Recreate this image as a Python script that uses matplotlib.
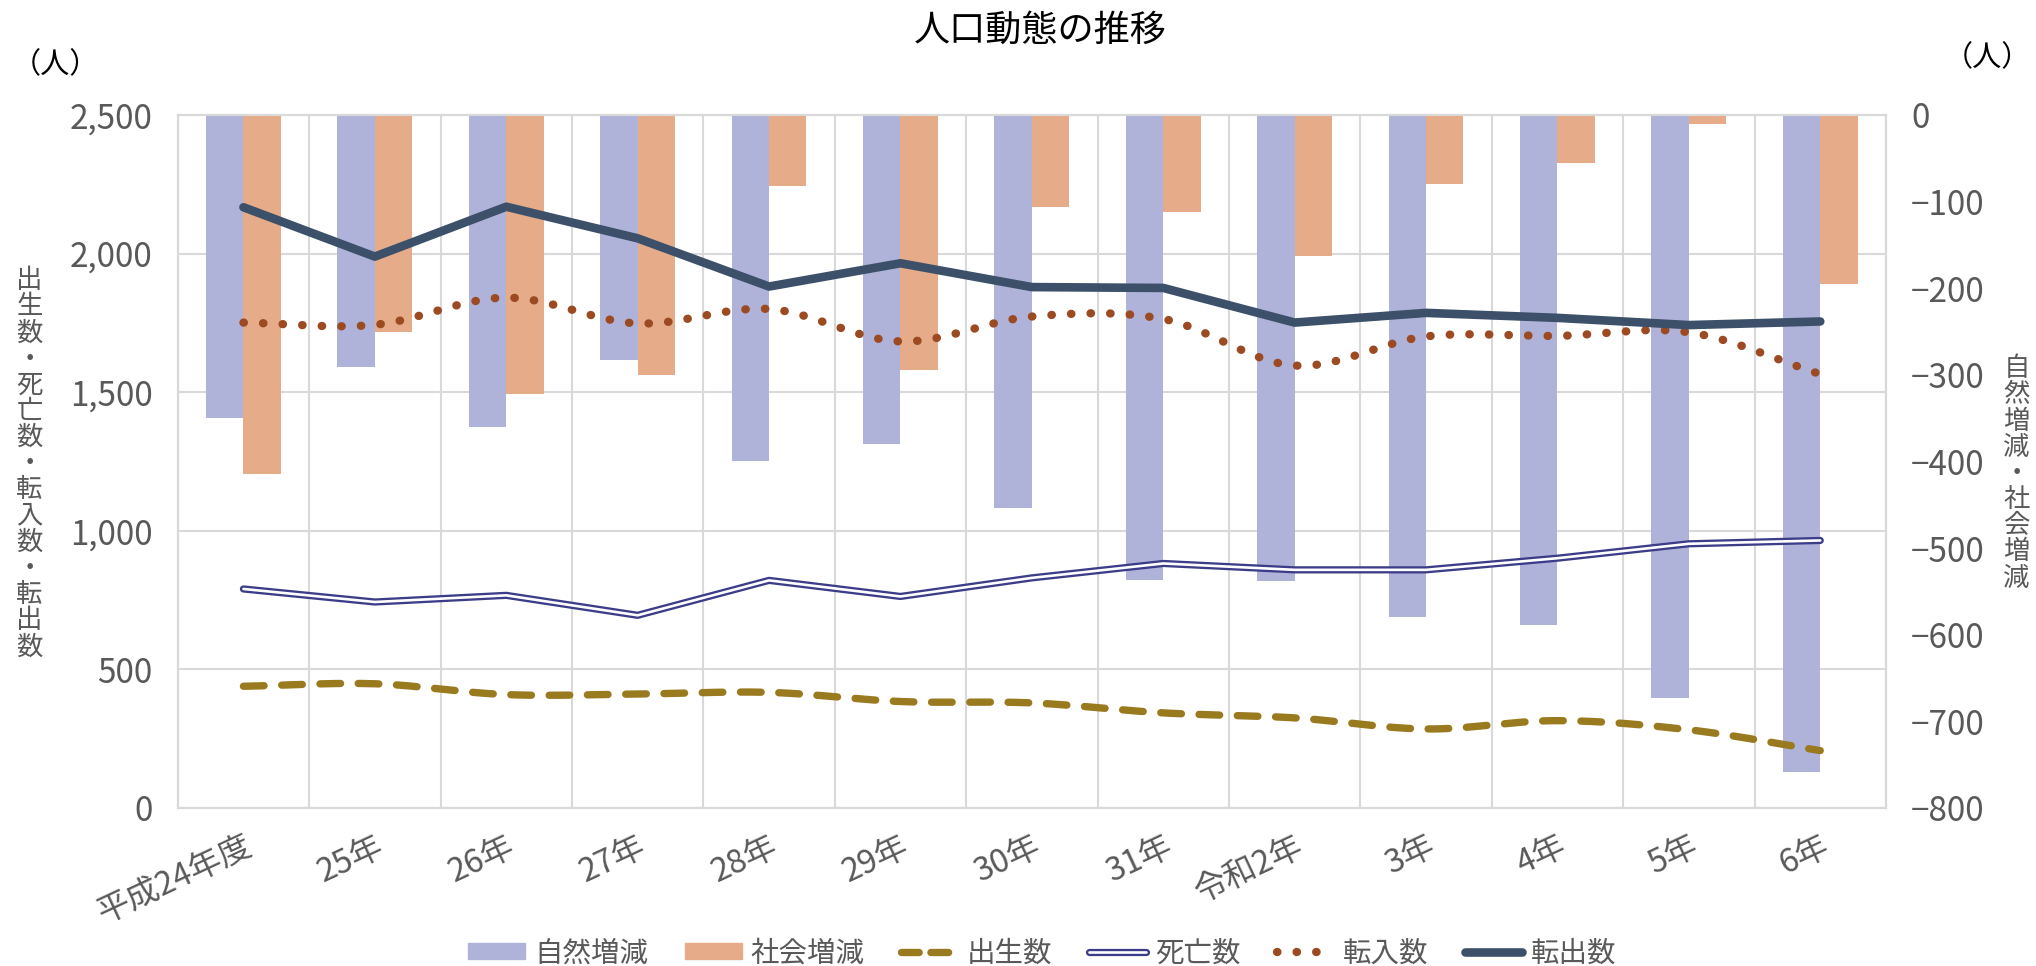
import matplotlib
matplotlib.use("Agg")
import matplotlib.pyplot as plt
import numpy as np
from matplotlib.lines import Line2D
from matplotlib.patches import Patch

plt.rcParams['font.family'] = ['Noto Sans CJK JP', 'DejaVu Sans']

# data
years = ['平成24年度', '25年', '26年', '27年', '28年', '29年', '30年',
         '31年', '令和2年', '3年', '4年', '5年', '6年']
shizen = [-350, -291, -360, -283, -399, -380, -454, -537, -538, -579, -589, -673, -759]
shakai = [-415, -251, -322, -300, -82, -294, -106, -112, -163, -80, -55, -11, -195]
births = [439, 448, 409, 411, 417, 384, 379, 343, 325, 285, 315, 282, 207]
deaths = [790, 743, 767, 695, 821, 763, 830, 882, 859, 859, 901, 953, 965]
tennyu = [1751, 1743, 1841, 1748, 1800, 1683, 1773, 1764, 1596, 1701, 1703, 1716, 1565]
tenshutsu = [2167, 1989, 2169, 2055, 1881, 1965, 1879, 1876, 1751, 1786, 1768, 1742, 1755]

c_shizen = '#b0b3d9'
c_shakai = '#e6ab89'
c_birth = '#9a7a1e'
c_death = '#3b3d88'
c_in = '#9b4a22'
c_out = '#3c5069'
grey = '#595959'
gridc = '#d9d9d9'


def smooth(xs, ys, n=30):
    # catmull-rom style curve through the points, like a smoothed line
    xs = np.asarray(xs, float)
    ys = np.asarray(ys, float)
    m = np.gradient(ys, xs)
    m[1:-1] = (ys[2:] - ys[:-2]) / (xs[2:] - xs[:-2])
    m[0] = ys[1] - ys[0]
    m[-1] = ys[-1] - ys[-2]
    ox, oy = [], []
    for i in range(len(xs) - 1):
        t = np.linspace(0, 1, n, endpoint=False)
        h = xs[i + 1] - xs[i]
        h00 = 2 * t**3 - 3 * t**2 + 1
        h10 = t**3 - 2 * t**2 + t
        h01 = -2 * t**3 + 3 * t**2
        h11 = t**3 - t**2
        ox.extend(xs[i] + t * h)
        oy.extend(h00 * ys[i] + h10 * h * m[i] + h01 * ys[i + 1] + h11 * h * m[i + 1])
    ox.append(xs[-1])
    oy.append(ys[-1])
    return np.array(ox), np.array(oy)


fig = plt.figure(figsize=(20.36, 9.66), dpi=100)
pos = [0.0873, 0.1636, 0.839, 0.7174]

ax = fig.add_axes(pos)
axb = ax.twinx()
axl = fig.add_axes(pos, sharex=ax, sharey=ax)
ax.set_zorder(0)
axb.set_zorder(1)
axl.set_zorder(2)
axb.patch.set_visible(False)
axl.set_axis_off()

x = np.arange(len(years))
w = 0.285

# bars on the right axis
axb.bar(x - w / 2, shizen, w, color=c_shizen, zorder=2)
axb.bar(x + w / 2, shakai, w, color=c_shakai, zorder=2)
axb.set_ylim(-800, 0)
axb.set_yticks(np.arange(-800, 1, 100))
axb.tick_params(axis='y', length=0, pad=18, labelsize=24, labelcolor=grey)

# lines on the left scale
sx, sy = smooth(x, births)
axl.plot(sx, sy, color=c_birth, lw=5.3, dashes=(2.8, 2.4), dash_capstyle='round',
         solid_capstyle='round')
axl.plot(x, deaths, color=c_death, lw=5.2, solid_capstyle='round', solid_joinstyle='round')
axl.plot(x, deaths, color='white', lw=1.9, solid_capstyle='round', solid_joinstyle='round')
tx, ty = smooth(x, tennyu)
axl.plot(tx, ty, color=c_in, lw=6, dashes=(0.05, 2.3), dash_capstyle='round')
axl.plot(x, tenshutsu, color=c_out, lw=6.2, solid_capstyle='round', solid_joinstyle='round')

ax.set_xlim(-0.5, len(years) - 0.5)
ax.set_ylim(0, 2500)
ax.set_yticks(np.arange(0, 2501, 500))
ax.set_yticklabels([f'{v:,}' for v in range(0, 2501, 500)])
ax.tick_params(axis='y', length=0, pad=18, labelsize=24, labelcolor=grey)
ax.set_xticks(x)
ax.set_xticklabels(years, rotation=25, ha='right', va='top', rotation_mode='anchor')
ax.tick_params(axis='x', which='major', length=0, pad=16, labelsize=23.5, labelcolor=grey)
ax.set_xticks(np.arange(-0.5, len(years), 1), minor=True)
ax.tick_params(axis='x', which='minor', length=0)
ax.grid(True, axis='y', which='major', color=gridc, lw=1.5)
ax.grid(True, axis='x', which='minor', color=gridc, lw=1.5)
ax.set_axisbelow(True)
for a in (ax, axb):
    for s in a.spines.values():
        s.set_color(gridc)
        s.set_linewidth(1.5)

# titles and axis labels
fig.text(0.511, 0.968, '人口動態の推移', ha='center', va='center', fontsize=26, color='black')
fig.text(0.027, 0.932, '（人）', ha='center', va='center', fontsize=21, color='black')
fig.text(0.976, 0.940, '（人）', ha='center', va='center', fontsize=21, color='black')
fig.text(0.0145, 0.52, '\n'.join('出生数・死亡数・転入数・転出数'), ha='center', va='center',
         fontsize=19, color=grey, linespacing=0.96)
fig.text(0.9905, 0.51, '\n'.join('自然増減・社会増減'), ha='center', va='center',
         fontsize=19, color=grey, linespacing=0.96)

handles = [
    Patch(color=c_shizen),
    Patch(color=c_shakai),
    Line2D([], [], color=c_birth, lw=5.3, dashes=(2.4, 1.6), dash_capstyle='round'),
    (Line2D([], [], color=c_death, lw=5.2, solid_capstyle='round'),
     Line2D([], [], color='white', lw=1.9, solid_capstyle='round')),
    Line2D([], [], color=c_in, lw=6, dashes=(0.05, 2.3), dash_capstyle='round'),
    Line2D([], [], color=c_out, lw=6.2, solid_capstyle='round'),
]
labels = ['自然増減', '社会増減', '出生数', '死亡数', '転入数', '転出数']
leg = fig.legend(handles, labels, loc='center', bbox_to_anchor=(0.512, 0.013), ncol=6,
                 frameon=False, fontsize=20.5, handlelength=2.0, handleheight=0.5,
                 handletextpad=0.3, columnspacing=1.3, labelcolor=grey)

fig.savefig('out.png', dpi=100)
